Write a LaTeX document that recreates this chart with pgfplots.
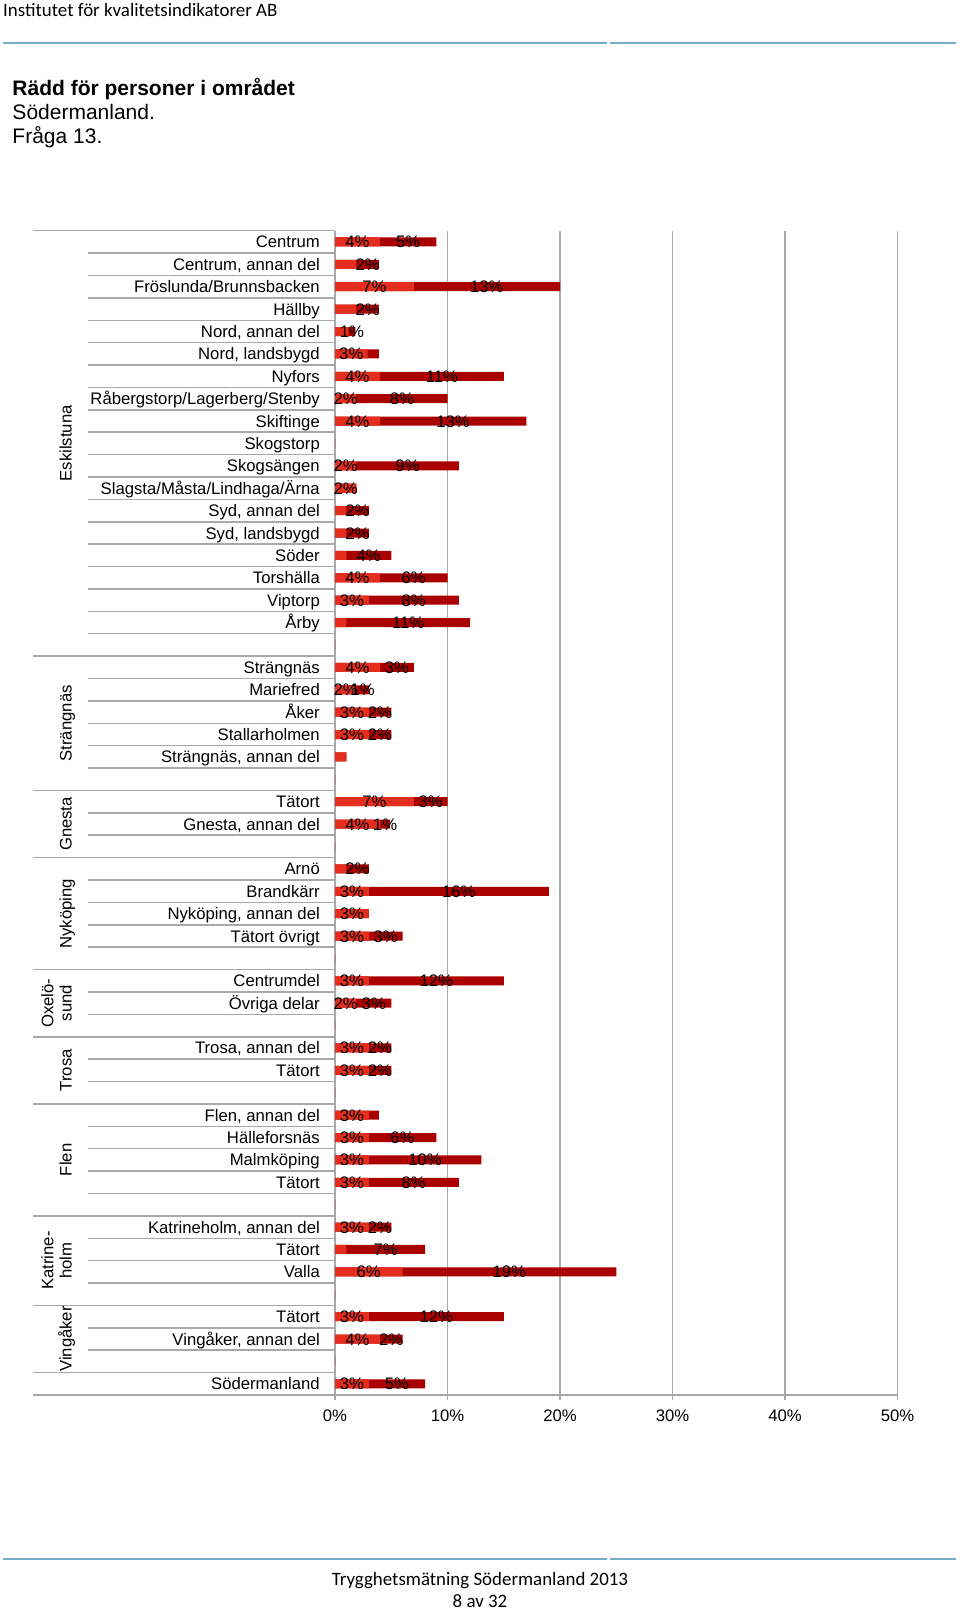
\documentclass[border=0pt]{standalone}
\usepackage{fontspec}
\setmainfont{Liberation Sans}
\newfontfamily\calibri{Carlito}
\usepackage{pgfplots}
\pgfplotsset{compat=1.18}
\usepackage{pgfplotstable}

\definecolor{barlight}{RGB}{229,45,30}
\definecolor{bardark}{RGB}{170,0,0}
\definecolor{gridgray}{RGB}{168,168,168}
\definecolor{headblue}{RGB}{120,172,198}

\newcommand\chartfont{\fontsize{16.7pt}{20pt}\selectfont}

% y = position from the bottom, l = light part, d = dark part,
% ll / dl = printed labels (0 = no label shown)
\pgfplotstableread{
y name l d ll dl
52 Centrum 4.0 5.0 4 5
51 {Centrum, annan del} 1.9 2.0 0 2
50 Fröslunda/Brunnsbacken 7.0 13.0 7 13
49 Hällby 1.9 2.0 0 2
48 {Nord, annan del} 1.2 0.6 0 1
47 {Nord, landsbygd} 2.9 1.0 3 0
46 Nyfors 4.0 11.0 4 11
45 Råbergstorp/Lagerberg/Stenby 1.9 8.1 2 8
44 Skiftinge 4.0 13.0 4 13
43 Skogstorp 0 0 0 0
42 Skogsängen 1.9 9.1 2 9
41 Slagsta/Måsta/Lindhaga/Ärna 1.9 0 2 0
40 {Syd, annan del} 1.0 2.0 0 2
39 {Syd, landsbygd} 1.0 2.0 0 2
38 Söder 1.0 4.0 0 4
37 Torshälla 4.0 6.0 4 6
36 Viptorp 3.0 8.0 3 8
35 Årby 1.0 11.0 0 11
34 {} 0 0 0 0
33 Strängnäs 4.0 3.0 4 3
32 Mariefred 1.9 1.1 2 1
31 Åker 3.0 2.0 3 2
30 Stallarholmen 3.0 2.0 3 2
29 {Strängnäs, annan del} 1.0 0 0 0
28 {} 0 0 0 0
27 Tätort 7.0 3.0 7 3
26 {Gnesta, annan del} 4.0 0.9 4 1
25 {} 0 0 0 0
24 Arnö 1.0 2.0 0 2
23 Brandkärr 3.0 16.0 3 16
22 {Nyköping, annan del} 3.0 0 3 0
21 {Tätort övrigt} 3.0 3.0 3 3
20 {} 0 0 0 0
19 Centrumdel 3.0 12.0 3 12
18 {Övriga delar} 1.9 3.1 2 3
17 {} 0 0 0 0
16 {Trosa, annan del} 3.0 2.0 3 2
15 Tätort 3.0 2.0 3 2
14 {} 0 0 0 0
13 {Flen, annan del} 3.0 0.9 3 0
12 Hälleforsnäs 3.0 6.0 3 6
11 Malmköping 3.0 10.0 3 10
10 Tätort 3.0 8.0 3 8
9 {} 0 0 0 0
8 {Katrineholm, annan del} 3.0 2.0 3 2
7 Tätort 1.0 7.0 0 7
6 Valla 6.0 19.0 6 19
5 {} 0 0 0 0
4 Tätort 3.0 12.0 3 12
3 {Vingåker, annan del} 4.0 2.0 4 2
2 {} 0 0 0 0
1 Södermanland 3.0 5.0 3 5
}\regions

\begin{document}
\begin{tikzpicture}
\fill[white] (0,0) rectangle (960pt,-1612pt);
\useasboundingbox (0,0) rectangle (960pt,-1612pt);

% page header
\node[anchor=base west, inner sep=0pt, font=\calibri\fontsize{18.9pt}{22pt}\selectfont]
  at (3pt,-16.5pt) {Institutet för kvalitetsindikatorer AB};
\draw[headblue, line width=2.5pt] (3pt,-43pt) -- (607pt,-43pt);
\draw[headblue, line width=2.5pt] (610pt,-43pt) -- (956pt,-43pt);

\node[anchor=base west, inner sep=0pt, font=\bfseries\fontsize{21pt}{24pt}\selectfont]
  at (12.3pt,-95.5pt) {Rädd för personer i området};
\node[anchor=base west, inner sep=0pt, font=\fontsize{21pt}{24pt}\selectfont]
  at (12.3pt,-119.5pt) {Södermanland.};
\node[anchor=base west, inner sep=0pt, font=\fontsize{21pt}{24pt}\selectfont]
  at (12.3pt,-143.5pt) {Fråga 13.};

\begin{axis}[
  at={(335pt,-1395pt)}, anchor=south west,
  scale only axis, width=562.5pt, height=1164.3pt,
  xmin=0, xmax=50, ymin=0.5, ymax=52.5,
  axis x line*=bottom, axis y line*=left,
  axis line style={gridgray, line width=1.5pt},
  xtick={0,10,20,30,40,50},
  xticklabels={0\%,10\%,20\%,30\%,40\%,50\%},
  xmajorgrids, major grid style={gridgray, line width=1.5pt},
  tick align=outside, major tick length=5pt,
  xtick style={gridgray, line width=1.5pt},
  ytick=\empty,
  xticklabel style={font=\chartfont, text=black, inner sep=0pt,
    text height=12pt, text depth=0pt, anchor=north, yshift=-9pt},
  clip=false,
]
% bars: full length in dark, light part drawn over it
\addplot[xbar, bar shift=0pt, bar width=9pt, fill=bardark, draw=none]
  table[x expr=\thisrow{l}+\thisrow{d}, y=y] {\regions};
\addplot[xbar, bar shift=0pt, bar width=9pt, fill=barlight, draw=none]
  table[x=l, y=y] {\regions};

% value labels, centred on each part
\addplot[draw=none, mark=none, point meta=explicit symbolic,
  restrict expr to domain={\thisrow{ll}}{0.5:100},
  nodes near coords={\pgfplotspointmeta\%},
  every node near coord/.append style={anchor=center, font=\chartfont, text=black,
    inner sep=0pt, text height=12pt, text depth=0pt}]
  table[x expr=\thisrow{l}/2, y=y, meta=ll] {\regions};
\addplot[draw=none, mark=none, point meta=explicit symbolic,
  restrict expr to domain={\thisrow{dl}}{0.5:100},
  nodes near coords={\pgfplotspointmeta\%},
  every node near coord/.append style={anchor=center, font=\chartfont, text=black,
    inner sep=0pt, text height=12pt, text depth=0pt}]
  table[x expr=\thisrow{l}+\thisrow{d}/2, y=y, meta=dl] {\regions};

% category names
\addplot[draw=none, mark=none, point meta=explicit symbolic,
  nodes near coords={\pgfplotspointmeta},
  every node near coord/.append style={anchor=east, xshift=-15pt, font=\chartfont,
    text=black, inner sep=0pt, text height=12pt, text depth=0pt}]
  table[x expr=0, y=y, meta=name] {\regions};
\end{axis}

% category separators: long at group starts, short elsewhere
\foreach \k in {0,19,25,28,33,36,39,44,48,51,52}
  \draw[gridgray, line width=1.5pt] (33pt,{-230.7pt-\k*22.39pt}) -- (335pt,{-230.7pt-\k*22.39pt});
\foreach \k in {1,...,18,20,21,22,23,24,26,27,29,30,31,32,34,35,37,38,40,41,42,43,45,46,47,49,50}
  \draw[gridgray, line width=1.5pt] (88pt,{-230.7pt-\k*22.39pt}) -- (335pt,{-230.7pt-\k*22.39pt});

% group names
\begin{scope}[every node/.style={rotate=90, anchor=base, inner sep=0pt, font=\chartfont}]
\node at (71.7pt,-443.4pt) {Eskilstuna};
\node at (71.7pt,-723.3pt) {Strängnäs};
\node at (71.7pt,-824.0pt) {Gnesta};
\node at (71.7pt,-913.6pt) {Nyköping};
\node at (53.3pt,-1003.2pt) {Oxelö-};
\node at (71.7pt,-1003.2pt) {sund};
\node at (71.7pt,-1070.3pt) {Trosa};
\node at (71.7pt,-1159.9pt) {Flen};
\node at (53.3pt,-1260.6pt) {Katrine-};
\node at (71.7pt,-1260.6pt) {holm};
\node at (71.7pt,-1339.0pt) {Vingåker};
\end{scope}

% page footer
\draw[headblue, line width=2.5pt] (3pt,-1559pt) -- (607pt,-1559pt);
\draw[headblue, line width=2.5pt] (610pt,-1559pt) -- (956pt,-1559pt);
\node[anchor=base, inner sep=0pt, font=\calibri\fontsize{18.9pt}{22pt}\selectfont]
  at (480pt,-1585pt) {Trygghetsmätning Södermanland 2013};
\node[anchor=base, inner sep=0pt, font=\calibri\fontsize{18.9pt}{22pt}\selectfont]
  at (480pt,-1607pt) {8 av 32};
\end{tikzpicture}
\end{document}
